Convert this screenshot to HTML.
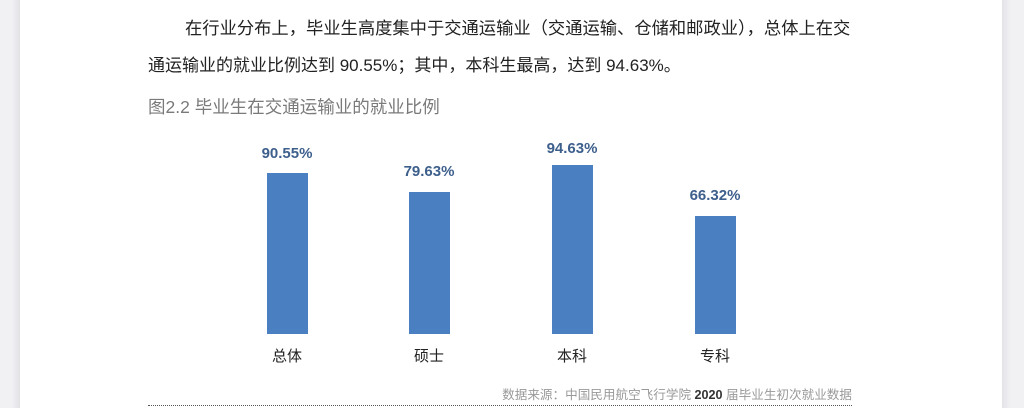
<!DOCTYPE html>
<html><head><meta charset="utf-8"><style>
body{margin:0;width:1024px;height:408px;overflow:hidden;background:#fff;font-family:"Liberation Sans","Noto Sans CJK SC",sans-serif;position:relative}
.l{position:absolute;top:0;left:0;width:20px;height:408px;background:linear-gradient(to right,#f1f1f4 60%,#e2e2e6)}
.r{position:absolute;top:0;left:1002px;width:22px;height:408px;background:linear-gradient(to right,#e4e4e8,#f1f1f4 40%)}
.t{position:absolute;white-space:nowrap;color:#222;font-size:17px}
.bar{position:absolute;background:#4a80c2;width:41px;bottom:74px}
.v{position:absolute;width:100px;text-align:center;font-weight:bold;color:#3d5f8c;font-size:15px}
.c{position:absolute;width:100px;text-align:center;font-size:15px;color:#222;top:345px}
</style></head><body>
<div class="l"></div><div class="r"></div>
<div class="t" style="left:185px;top:14px;font-size:17.3px">在行业分布上，毕业生高度集中于交通运输业（交通运输、仓储和邮政业），总体上在交</div>
<div class="t" style="left:148px;top:51px">通运输业的就业比例达到 90.55%；其中，本科生最高，达到 94.63%。</div>
<div class="t" style="left:148px;top:94px;color:#7a7a7a;font-size:17.5px">图2.2 毕业生在交通运输业的就业比例</div>
<div class="bar" style="left:267px;top:173px;height:161px"></div>
<div class="bar" style="left:409px;top:192px;height:142px"></div>
<div class="bar" style="left:552px;top:165px;height:169px"></div>
<div class="bar" style="left:695px;top:216px;height:118px"></div>
<div class="v" style="left:237px;top:145px">90.55%</div>
<div class="v" style="left:379px;top:163px">79.63%</div>
<div class="v" style="left:522px;top:140px">94.63%</div>
<div class="v" style="left:665px;top:187px">66.32%</div>
<div class="c" style="left:237px">总体</div>
<div class="c" style="left:379px">硕士</div>
<div class="c" style="left:522px">本科</div>
<div class="c" style="left:665px">专科</div>
<div class="t" style="left:480px;top:384px;width:372px;text-align:right;font-size:12.6px;color:#999">数据来源：中国民用航空飞行学院 <b style="color:#333">2020</b> 届毕业生初次就业数据</div>
<div style="position:absolute;left:148px;top:405px;width:704px;border-top:1px dotted #555"></div>
</body></html>
